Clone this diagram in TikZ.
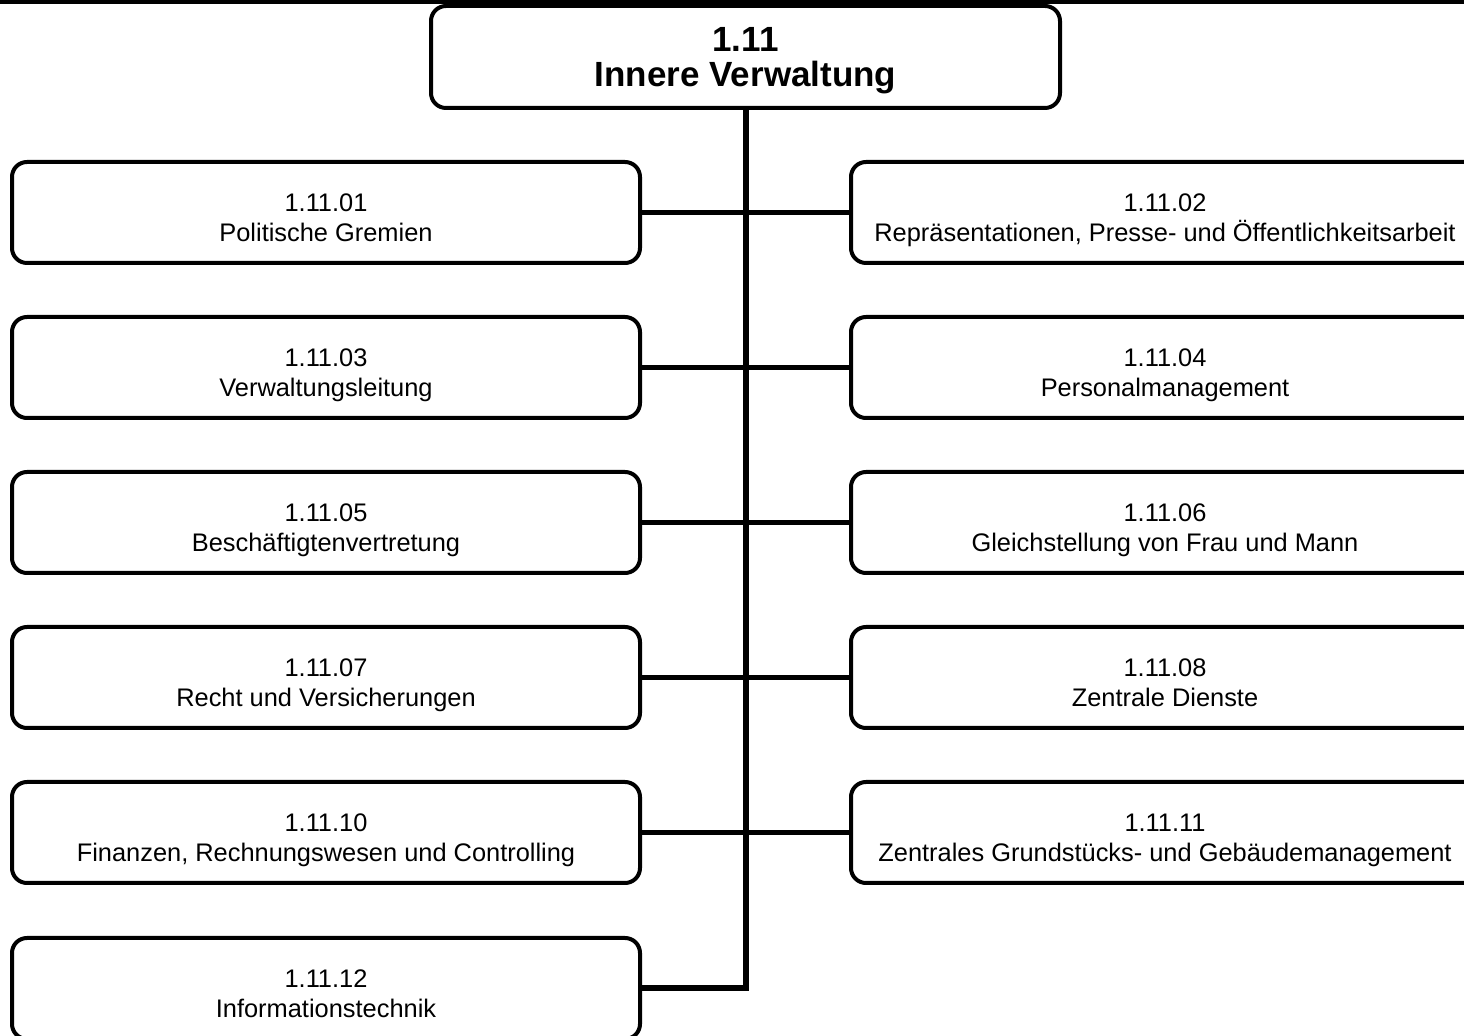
\documentclass[tikz,border=0pt]{standalone}
\usepackage{fontspec}
\setmainfont{Liberation Sans}

\tikzset{
  unit/.style={draw, line width=2pt, rounded corners=7.5pt, inner sep=0pt, align=center,
    minimum width=314pt, minimum height=50.5pt, text height=29.5pt, text depth=0.5pt,
    font=\fontsize{12.7}{14.75}\selectfont},
  head/.style={unit, minimum width=314.5pt, minimum height=51pt, text height=30pt, text depth=0pt,
    font=\fontsize{17.5}{17.5}\selectfont\bfseries},
  trunk/.style={line width=3pt},
  branch/.style={line width=2.5pt}
}

\begin{document}
\begin{tikzpicture}[x=0.5pt,y=-0.5pt]
\useasboundingbox (0,0) rectangle (1464,1036);
\clip (0,0) rectangle (1464,1036);
\draw[line width=2pt] (0,2) -- (1464,2);
\node[head] (iv) at (745.5,57) {1.11\\Innere Verwaltung};
\node[unit] (u01) at (326,212.5) {1.11.01\\Politische Gremien};
\node[unit] (u02) at (1165,212.5) {1.11.02\\Repräsentationen, Presse- und Öffentlichkeitsarbeit};
\node[unit] (u03) at (326,367.5) {1.11.03\\Verwaltungsleitung};
\node[unit] (u04) at (1165,367.5) {1.11.04\\Personalmanagement};
\node[unit] (u05) at (326,522.5) {1.11.05\\Beschäftigtenvertretung};
\node[unit] (u06) at (1165,522.5) {1.11.06\\Gleichstellung von Frau und Mann};
\node[unit] (u07) at (326,677.5) {1.11.07\\Recht und Versicherungen};
\node[unit] (u08) at (1165,677.5) {1.11.08\\Zentrale Dienste};
\node[unit] (u10) at (326,832.5) {1.11.10\\Finanzen, Rechnungswesen und Controlling};
\node[unit] (u11) at (1165,832.5) {1.11.11\\Zentrales Grundstücks- und Gebäudemanagement};
\node[unit] (u12) at (326,988.5) {1.11.12\\Informationstechnik};
% trunk down to the last unit
\draw[trunk] (iv.south) |- (u12.east);
\draw[branch] (u01.east) -- (u02.west);
\draw[branch] (u03.east) -- (u04.west);
\draw[branch] (u05.east) -- (u06.west);
\draw[branch] (u07.east) -- (u08.west);
\draw[branch] (u10.east) -- (u11.west);
\end{tikzpicture}
\end{document}
